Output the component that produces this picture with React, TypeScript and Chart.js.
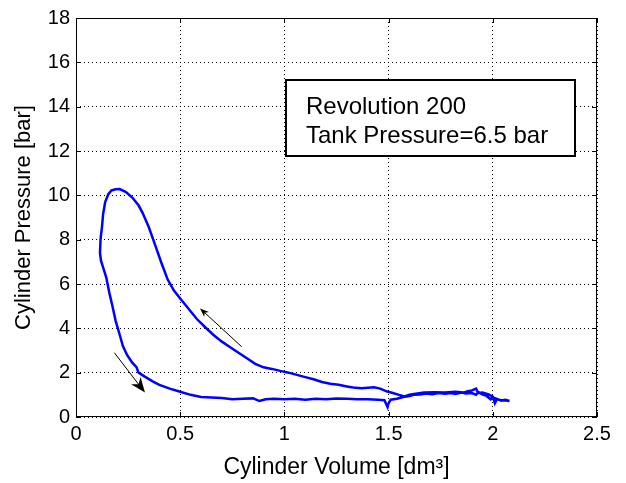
import React, { useEffect, useRef } from "react";
import { Chart, registerables } from "chart.js";

Chart.register(...registerables);

// Cylinder volume [dm3] and pressure [bar] along the measured cycle
const volume: number[] = [
  2.08, 2.06, 2.04, 2.02, 2.0, 1.99, 1.97, 1.95, 1.93, 1.92, 1.9, 1.87, 1.85, 1.82, 1.8, 1.77, 1.74, 1.71, 1.68,
  1.65, 1.62, 1.6, 1.58, 1.55, 1.52, 1.49, 1.46, 1.43, 1.4, 1.37, 1.33, 1.3, 1.26, 1.22, 1.18, 1.14, 1.1, 1.06,
  1.02, 0.98, 0.94, 0.9, 0.86, 0.82, 0.78, 0.74, 0.7, 0.66, 0.62, 0.58, 0.54, 0.5, 0.47, 0.44, 0.41, 0.38, 0.35,
  0.32, 0.3, 0.27, 0.24, 0.21, 0.19, 0.17, 0.155, 0.14, 0.13, 0.125, 0.118, 0.115, 0.12, 0.13, 0.145, 0.16, 0.175,
  0.19, 0.21, 0.225, 0.245, 0.27, 0.29, 0.3, 0.33, 0.37, 0.4, 0.45, 0.5, 0.55, 0.6, 0.65, 0.7, 0.75, 0.8, 0.85,
  0.88, 0.91, 0.95, 1.0, 1.05, 1.1, 1.15, 1.2, 1.25, 1.3, 1.35, 1.4, 1.45, 1.48, 1.495, 1.5, 1.51, 1.54, 1.57,
  1.6, 1.63, 1.67, 1.72, 1.77, 1.82, 1.86, 1.88, 1.9, 1.92, 1.93, 1.95, 1.98, 2.0, 2.01, 2.02, 2.05, 2.08,
];
const pressure: number[] = [
  0.72, 0.78, 0.74, 0.82, 0.88, 0.8, 0.95, 1.02, 1.12, 1.0, 1.08, 1.06, 1.1, 1.04, 1.08, 1.05, 1.08, 1.03, 1.06,
  1.02, 1.0, 0.95, 0.92, 1.0, 1.08, 1.16, 1.28, 1.34, 1.32, 1.3, 1.33, 1.38, 1.45, 1.5, 1.58, 1.7, 1.8, 1.9,
  2.0, 2.08, 2.17, 2.24, 2.4, 2.65, 2.9, 3.15, 3.4, 3.7, 4.05, 4.42, 4.88, 5.35, 5.7, 6.2, 6.95, 7.75, 8.55,
  9.2, 9.55, 9.9, 10.15, 10.28, 10.27, 10.22, 10.05, 9.7, 9.15, 8.6, 8.05, 7.4, 7.05, 6.75, 6.3, 5.6, 5.0,
  4.35, 3.7, 3.2, 2.8, 2.45, 2.25, 2.0, 1.82, 1.6, 1.45, 1.28, 1.14, 1.0, 0.9, 0.88, 0.86, 0.8, 0.82, 0.84,
  0.72, 0.8, 0.82, 0.8, 0.82, 0.78, 0.82, 0.8, 0.83, 0.82, 0.8, 0.8, 0.78, 0.76, 0.45, 0.62, 0.78, 0.82, 0.9,
  1.0, 1.05, 1.1, 1.12, 1.1, 1.14, 1.1, 1.16, 1.2, 1.28, 1.08, 1.1, 1.02, 0.92, 0.62, 0.8, 0.75, 0.72,
];

const xTicks: number[] = [0, 0.5, 1, 1.5, 2, 2.5];
const xTickLabels: string[] = ["0", "0.5", "1", "1.5", "2", "2.5"];
const yTicks: number[] = [0, 2, 4, 6, 8, 10, 12, 14, 16, 18];
const yTickLabels: string[] = ["0", "2", "4", "6", "8", "10", "12", "14", "16", "18"];

// Direction arrows (data coordinates)
const arrowFromX: number[] = [0.795, 0.184];
const arrowFromY: number[] = [3.17, 2.9];
const arrowToX: number[] = [0.595, 0.331];
const arrowToY: number[] = [4.9, 1.1];
const arrowHeadLen: number[] = [9, 15];
const arrowHeadHalfW: number[] = [3.5, 6];

const boxLines: string[] = ["Revolution 200", "Tank Pressure=6.5 bar"];

const FONT = "'Liberation Sans', Arial, Helvetica, sans-serif";

const framePlugin = {
  id: "matlabFrame",
  afterDatasetsDraw(chart: any) {
    const { ctx, chartArea: a, scales } = chart;
    const xs = scales.x;
    const ys = scales.y;
    ctx.save();
    // arrows
    ctx.strokeStyle = "#000";
    ctx.fillStyle = "#000";
    ctx.lineWidth = 1;
    for (let i = 0; i < arrowFromX.length; i++) {
      const x0 = xs.getPixelForValue(arrowFromX[i]);
      const y0 = ys.getPixelForValue(arrowFromY[i]);
      const x1 = xs.getPixelForValue(arrowToX[i]);
      const y1 = ys.getPixelForValue(arrowToY[i]);
      const ang = Math.atan2(y1 - y0, x1 - x0);
      const L = arrowHeadLen[i];
      const W = arrowHeadHalfW[i];
      ctx.beginPath();
      ctx.moveTo(x0, y0);
      ctx.lineTo(x1 - Math.cos(ang) * L * 0.6, y1 - Math.sin(ang) * L * 0.6);
      ctx.stroke();
      const bx = x1 - Math.cos(ang) * L;
      const by = y1 - Math.sin(ang) * L;
      const px = -Math.sin(ang);
      const py = Math.cos(ang);
      ctx.beginPath();
      ctx.moveTo(x1, y1);
      ctx.lineTo(bx + px * W, by + py * W);
      ctx.lineTo(x1 - Math.cos(ang) * L * 0.7, y1 - Math.sin(ang) * L * 0.7);
      ctx.lineTo(bx - px * W, by - py * W);
      ctx.closePath();
      ctx.fill();
    }
    // text box
    const bl = a.left + 210;
    const bt = a.top + 62;
    const bw = 289;
    const bh = 76;
    ctx.fillStyle = "#fff";
    ctx.fillRect(bl, bt, bw, bh);
    ctx.strokeStyle = "#000";
    ctx.lineWidth = 2;
    ctx.strokeRect(bl, bt, bw, bh);
    ctx.fillStyle = "#000";
    ctx.font = `24px ${FONT}`;
    ctx.textBaseline = "alphabetic";
    ctx.textAlign = "left";
    boxLines.forEach((t, i) => ctx.fillText(t, bl + 20, bt + 34 + i * 29));
    // frame
    ctx.lineWidth = 1;
    ctx.strokeStyle = "#000";
    ctx.strokeRect(a.left + 0.5, a.top + 0.5, a.right - a.left - 1, a.bottom - a.top - 1);
    // inward ticks
    const tl = 5;
    ctx.beginPath();
    xTicks.forEach((v) => {
      const x = Math.round(xs.getPixelForValue(v)) + 0.5;
      ctx.moveTo(x, a.bottom);
      ctx.lineTo(x, a.bottom - tl);
      ctx.moveTo(x, a.top);
      ctx.lineTo(x, a.top + tl);
    });
    yTicks.forEach((v) => {
      const y = Math.round(ys.getPixelForValue(v)) + 0.5;
      ctx.moveTo(a.left, y);
      ctx.lineTo(a.left + tl, y);
      ctx.moveTo(a.right, y);
      ctx.lineTo(a.right - tl, y);
    });
    ctx.stroke();
    ctx.restore();
  },
};

export default function App() {
  const ref = useRef<HTMLCanvasElement | null>(null);
  useEffect(() => {
    if (!ref.current) return;
    const pts = volume.map((v, i) => ({ x: v, y: pressure[i] }));
    const chart = new Chart(ref.current, {
      type: "scatter",
      data: {
        datasets: [
          {
            data: pts,
            showLine: true,
            borderColor: "#0000ff",
            backgroundColor: "#0000ff",
            borderWidth: 2.5,
            pointRadius: 0,
            tension: 0,
          },
        ],
      },
      options: {
        animation: false,
        responsive: true,
        maintainAspectRatio: false,
        layout: { padding: { top: 18, right: 29, left: 0, bottom: 0 } },
        plugins: { legend: { display: false }, tooltip: { enabled: false } },
        scales: {
          x: {
            type: "linear",
            min: 0,
            max: 2.5,
            afterBuildTicks: (s: any) => {
              s.ticks = xTicks.map((v) => ({ value: v }));
            },
            afterFit: (s: any) => {
              s.height = 66;
            },
            ticks: {
              callback: (v: any) => xTickLabels[xTicks.indexOf(Number(v))] ?? "",
              font: { family: FONT, size: 20 },
              color: "#000",
              padding: 5,
              maxRotation: 0,
              autoSkip: false,
            },
            grid: { color: "#000", drawTicks: false, lineWidth: 1 },
            border: { display: false, dash: [1, 3] },
            title: {
              display: true,
              text: "Cylinder Volume [dm³]",
              font: { family: FONT, size: 23 },
              color: "#000",
              padding: { top: 0, bottom: 2 },
            },
          },
          y: {
            type: "linear",
            min: 0,
            max: 18,
            afterBuildTicks: (s: any) => {
              s.ticks = yTicks.map((v) => ({ value: v }));
            },
            afterFit: (s: any) => {
              s.width = 76;
            },
            ticks: {
              callback: (v: any) => yTickLabels[yTicks.indexOf(Number(v))] ?? "",
              font: { family: FONT, size: 20 },
              color: "#000",
              padding: 6,
              autoSkip: false,
            },
            grid: { color: "#000", drawTicks: false, lineWidth: 1 },
            border: { display: false, dash: [1, 3] },
            title: {
              display: true,
              text: "Cylinder Pressure [bar]",
              font: { family: FONT, size: 22 },
              color: "#000",
              padding: { top: 11, bottom: 0 },
            },
          },
        },
      },
      plugins: [framePlugin],
    });
    return () => chart.destroy();
  }, []);
  return (
    <div style={{ position: "absolute", left: 0, top: 0, width: 626, height: 483, background: "#fff" }}>
      <canvas ref={ref} />
    </div>
  );
}
